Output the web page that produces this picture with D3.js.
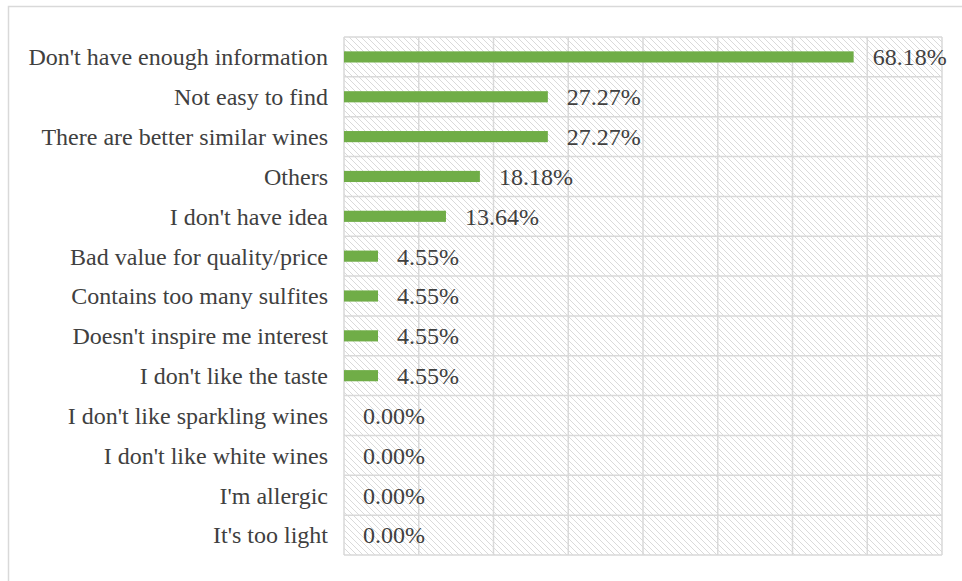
<!DOCTYPE html>
<html>
<head>
<meta charset="utf-8">
<script src="https://cdn.jsdelivr.net/npm/d3@7"></script>
<style>
  html, body { margin: 0; padding: 0; background: #fff; }
  svg { display: block; }
</style>
</head>
<body>
<svg id="chart" width="962" height="581"></svg>
<script>
// Reasons for not choosing the wine (share of respondents)
const categories = [
  "Don't have enough information",
  "Not easy to find",
  "There are better similar wines",
  "Others",
  "I don't have idea",
  "Bad value for quality/price",
  "Contains too many sulfites",
  "Doesn't inspire me interest",
  "I don't like the taste",
  "I don't like sparkling wines",
  "I don't like white wines",
  "I'm allergic",
  "It's too light"
];
const values = [68.18, 27.27, 27.27, 18.18, 13.64, 4.55, 4.55, 4.55, 4.55, 0, 0, 0, 0];
const xTicks = [0, 10, 20, 30, 40, 50, 60, 70, 80];

const svg = d3.select("#chart");
const W = 962, H = 581;
const plot = { left: 344, right: 942, top: 37, bottom: 555 };
const gridColor = "#d9d9d9";
const textColor = "#404040";
const font = "'Liberation Serif', 'Times New Roman', serif";
const fontSize = 24;

// Outer chart frame (extends past the right and bottom edges)
svg.append("rect")
  .attr("x", 8.5).attr("y", 6.5)
  .attr("width", W + 20).attr("height", H + 20)
  .attr("fill", "#fff")
  .attr("stroke", gridColor).attr("stroke-width", 1.5);

// Diagonal hatch fill for the plot area
const defs = svg.append("defs");
const pat = defs.append("pattern")
  .attr("id", "hatch")
  .attr("patternUnits", "userSpaceOnUse")
  .attr("width", 6).attr("height", 6);
pat.append("path")
  .attr("d", "M-1,-1 L7,7 M-7,-1 L1,7 M5,-1 L13,7")
  .attr("stroke", "#dadada")
  .attr("stroke-width", 1);

const x = d3.scaleLinear().domain([0, 80]).range([plot.left, plot.right]);
const y = d3.scaleBand().domain(categories).range([plot.top, plot.bottom]).paddingInner(0.72).paddingOuter(0.36);
const rows = d3.scaleBand().domain(categories).range([plot.top, plot.bottom]);

svg.append("rect")
  .attr("x", plot.left).attr("y", plot.top)
  .attr("width", plot.right - plot.left).attr("height", plot.bottom - plot.top)
  .attr("fill", "url(#hatch)");

// Vertical gridlines at each tick
svg.append("g").selectAll("line").data(xTicks).join("line")
  .attr("x1", d => x(d)).attr("x2", d => x(d))
  .attr("y1", plot.top).attr("y2", plot.bottom)
  .attr("stroke", gridColor).attr("stroke-width", 1.5);

// Horizontal lines between category rows
const bounds = categories.map(c => rows(c)).concat([plot.bottom]);
svg.append("g").selectAll("line").data(bounds).join("line")
  .attr("x1", plot.left).attr("x2", plot.right)
  .attr("y1", d => d).attr("y2", d => d)
  .attr("stroke", gridColor).attr("stroke-width", 1.5);

// Bars
svg.append("g").selectAll("rect").data(values).join("rect")
  .attr("x", x(0))
  .attr("y", (d, i) => y(categories[i]))
  .attr("width", d => x(d) - x(0))
  .attr("height", y.bandwidth())
  .attr("fill", "#70ad47");

// Value labels
svg.append("g").selectAll("text").data(values).join("text")
  .attr("x", d => x(d) + 19)
  .attr("y", (d, i) => rows(categories[i]) + rows.bandwidth() / 2)
  .attr("dy", "0.35em")
  .attr("font-family", font).attr("font-size", fontSize)
  .attr("fill", textColor)
  .text(d => d.toFixed(2) + "%");

// Category axis labels
svg.append("g").selectAll("text").data(categories).join("text")
  .attr("x", plot.left - 16)
  .attr("y", d => rows(d) + rows.bandwidth() / 2)
  .attr("dy", "0.35em")
  .attr("text-anchor", "end")
  .attr("font-family", font).attr("font-size", fontSize)
  .attr("fill", textColor)
  .text(d => d);
</script>
</body>
</html>
